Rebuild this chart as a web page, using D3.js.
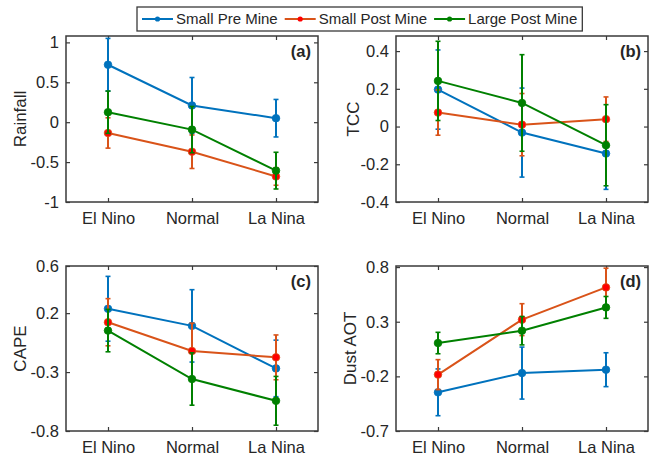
<!DOCTYPE html>
<html><head><meta charset="utf-8">
<script src="https://cdn.jsdelivr.net/npm/d3@7"></script>
<style>body{margin:0;background:#fff}</style></head>
<body>
<svg id="chart" width="653" height="459"></svg>
<script>
// ---- data ----
const categories = ["El Nino", "Normal", "La Nina"];
const seriesNames = ["Small Pre Mine", "Small Post Mine", "Large Post Mine"];

const rainPre = [0.72, 0.21, 0.05];
const rainPreErr = [0.33, 0.35, 0.235];
const rainSmallPost = [-0.135, -0.37, -0.68];
const rainSmallPostErr = [0.19, 0.21, 0.11];
const rainLargePost = [0.125, -0.093, -0.607];
const rainLargePostErr = [0.265, 0.29, 0.23];

const tccPre = [0.196, -0.032, -0.143];
const tccPreErr = [0.21, 0.236, 0.19];
const tccSmallPost = [0.074, 0.01, 0.039];
const tccSmallPostErr = [0.12, 0.165, 0.118];
const tccLargePost = [0.242, 0.125, -0.099];
const tccLargePostErr = [0.21, 0.256, 0.215];

const capePre = [0.237, 0.092, -0.269];
const capePreErr = [0.275, 0.307, 0.24];
const capeSmallPost = [0.123, -0.121, -0.175];
const capeSmallPostErr = [0.2, 0.236, 0.19];
const capeLargePost = [0.052, -0.359, -0.544];
const capeLargePostErr = [0.18, 0.222, 0.207];

const dustPre = [-0.346, -0.17, -0.139];
const dustPreErr = [0.214, 0.238, 0.155];
const dustSmallPost = [-0.184, 0.319, 0.614];
const dustSmallPostErr = [0.137, 0.146, 0.176];
const dustLargePost = [0.105, 0.218, 0.431];
const dustLargePostErr = [0.098, 0.13, 0.1];

const rainTicks = [-1, -0.5, 0, 0.5, 1];
const tccTicks = [-0.4, -0.2, 0, 0.2, 0.4];
const capeTicks = [-0.8, -0.3, 0.2, 0.6];
const dustTicks = [-0.7, -0.2, 0.3, 0.8];

// ---- styles ----
const lineColors = ["#0072BD", "#D95319", "#008000"];
const markerColors = ["#0072BD", "#FF0000", "#008000"];
const font = "'Liberation Sans', Arial, Helvetica, sans-serif";
const textColor = "#262626";

const panels = [
  {label: "(a)", ylabel: "Rainfall", box: [66, 318, 36, 202], yDomain: [-1, 1.08], ticks: rainTicks,
   means: [rainPre, rainSmallPost, rainLargePost], errs: [rainPreErr, rainSmallPostErr, rainLargePostErr], ylx: 20},
  {label: "(b)", ylabel: "TCC", box: [396, 648, 36, 202], yDomain: [-0.4, 0.48], ticks: tccTicks,
   means: [tccPre, tccSmallPost, tccLargePost], errs: [tccPreErr, tccSmallPostErr, tccLargePostErr], ylx: 353},
  {label: "(c)", ylabel: "CAPE", box: [66, 318, 266, 431], yDomain: [-0.8, 0.6], ticks: capeTicks,
   means: [capePre, capeSmallPost, capeLargePost], errs: [capePreErr, capeSmallPostErr, capeLargePostErr], ylx: 20},
  {label: "(d)", ylabel: "Dust AOT", box: [396, 648, 266, 431], yDomain: [-0.7, 0.81], ticks: dustTicks,
   means: [dustPre, dustSmallPost, dustLargePost], errs: [dustPreErr, dustSmallPostErr, dustLargePostErr], ylx: 350}
];

const svg = d3.select("#chart");

panels.forEach(p => {
  const [x0, x1, y0, y1] = p.box;
  const x = d3.scaleLinear().domain([0.5, 3.5]).range([x0, x1]);
  const y = d3.scaleLinear().domain(p.yDomain).range([y1, y0]);
  const g = svg.append("g");

  g.append("rect").attr("x", x0).attr("y", y0).attr("width", x1 - x0).attr("height", y1 - y0)
    .attr("fill", "#fff").attr("stroke", "#3a3a3a").attr("stroke-width", 1.5);

  const fmt = d => String(d);
  const axL = g.append("g").attr("transform", `translate(${x0},0)`)
    .call(d3.axisLeft(y).tickValues(p.ticks).tickFormat(fmt).tickSizeInner(-4).tickSizeOuter(0).tickPadding(7));
  const axR = g.append("g").attr("transform", `translate(${x1},0)`)
    .call(d3.axisRight(y).tickValues(p.ticks).tickFormat("").tickSizeInner(-4).tickSizeOuter(0));
  const axB = g.append("g").attr("transform", `translate(0,${y1})`)
    .call(d3.axisBottom(x).tickValues([1, 2, 3]).tickFormat(i => categories[i - 1]).tickSizeInner(-4).tickSizeOuter(0).tickPadding(10));
  const axT = g.append("g").attr("transform", `translate(0,${y0})`)
    .call(d3.axisTop(x).tickValues([1, 2, 3]).tickFormat("").tickSizeInner(-4).tickSizeOuter(0));
  [axL, axR, axB, axT].forEach(a => {
    a.select(".domain").remove();
    a.selectAll(".tick line").attr("stroke", "#3a3a3a").attr("stroke-width", 1.2);
    a.selectAll("text").attr("font-family", font).attr("fill", textColor);
  });
  axL.selectAll("text").attr("font-size", 16.5);
  axB.selectAll("text").attr("font-size", 16.5);

  g.append("text").attr("transform", `translate(${p.ylx},${(y0 + y1) / 2}) rotate(-90)`)
    .attr("text-anchor", "middle").attr("dominant-baseline", "central")
    .attr("font-family", font).attr("font-size", 17).attr("fill", textColor).text(p.ylabel);

  g.append("text").attr("x", x1 - 7).attr("y", y0 + 21).attr("text-anchor", "end")
    .attr("font-family", font).attr("font-size", 16.5).attr("font-weight", "bold")
    .attr("fill", textColor).text(p.label);

  const line = d3.line().x((d, i) => x(i + 1)).y(d => y(d));
  p.means.forEach((m, s) => {
    const sg = g.append("g");
    const e = p.errs[s];
    sg.append("path").datum(m).attr("d", line).attr("fill", "none")
      .attr("stroke", lineColors[s]).attr("stroke-width", 2);
    m.forEach((v, i) => {
      const cx = x(i + 1);
      sg.append("line").attr("x1", cx).attr("x2", cx).attr("y1", y(v - e[i])).attr("y2", y(v + e[i]))
        .attr("stroke", lineColors[s]).attr("stroke-width", 2);
      [v - e[i], v + e[i]].forEach(t => {
        sg.append("line").attr("x1", cx - 2.5).attr("x2", cx + 2.5).attr("y1", y(t)).attr("y2", y(t))
          .attr("stroke", lineColors[s]).attr("stroke-width", 1.6);
      });
    });
    sg.selectAll("circle.m").data(m).join("circle").attr("class", "m")
      .attr("cx", (d, i) => x(i + 1)).attr("cy", d => y(d)).attr("r", 3.8)
      .attr("fill", markerColors[s]).attr("stroke", lineColors[s]).attr("stroke-width", 0.8);
  });
});

// ---- legend ----
const lg = svg.append("g");
const lgRect = lg.append("rect").attr("y", 7).attr("height", 24).attr("fill", "#fff")
  .attr("stroke", "#3a3a3a").attr("stroke-width", 1.3);
let cursor = 142;
const lgLeft = 137;
seriesNames.forEach((name, s) => {
  lg.append("line").attr("x1", cursor).attr("x2", cursor + 31).attr("y1", 19).attr("y2", 19)
    .attr("stroke", lineColors[s]).attr("stroke-width", 2);
  lg.append("circle").attr("cx", cursor + 15.5).attr("cy", 19).attr("r", 2.6).attr("fill", markerColors[s]);
  const t = lg.append("text").attr("x", cursor + 34).attr("y", 24).attr("font-family", font)
    .attr("font-size", 15).attr("fill", textColor).text(name);
  const w = t.node().getComputedTextLength();
  cursor = cursor + 34 + w + 7;
});
lgRect.attr("x", lgLeft).attr("width", cursor - 7 + 5 - lgLeft);
</script>
</body></html>
